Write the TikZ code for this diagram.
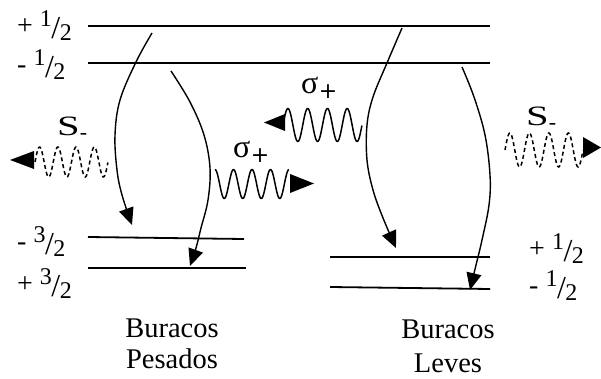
\documentclass[tikz,border=0pt]{standalone}
\usepackage{fontspec}
\setmainfont{Liberation Serif}
\newfontfamily\symfont{DejaVu Sans}
\usetikzlibrary{arrows.meta}
\newcommand{\frc}[2]{\raisebox{8pt}{\fontsize{24}{24}\selectfont #1}\kern-0.5pt\raisebox{-4pt}{\fontsize{32}{32}\selectfont /}\kern-0.5pt\raisebox{-6pt}{\fontsize{24}{24}\selectfont #2}}
\newcommand{\sigp}{{\fontsize{32}{32}\selectfont σ}\kern0.5pt\raisebox{-5pt}{\fontsize{22}{22}\selectfont\symfont +}}
\newcommand{\smin}{\scalebox{1.45}[1]{\fontsize{28}{28}\selectfont S}\raisebox{-4pt}{\fontsize{22}{22}\selectfont -}}
\begin{document}
\begin{tikzpicture}[x=1pt,y=-1pt,
  level/.style={line width=1.8pt},
  curvearrow/.style={line width=1.4pt,-{Triangle[length=17pt,width=15pt]}},
  wv/.style={line width=1.5pt,line join=round},
  dwv/.style={line width=1.5pt,dash pattern=on 4pt off 3pt},
  lab/.style={anchor=base west,inner sep=0pt,font=\fontsize{28}{28}\selectfont},
  sig/.style={anchor=base west,inner sep=0pt,font=\fontsize{26}{26}\selectfont},
  txt/.style={anchor=base,inner sep=0pt,font=\fontsize{28.5}{28.5}\selectfont}]
\useasboundingbox (0,0) rectangle (601,379);
% energy levels
\draw[level] (88,26) coordinate (a1) -- (490,26) coordinate (a2);
\draw[level] (88,63) coordinate (b1) -- (490,63) coordinate (b2);
\draw[level] (88,237) coordinate (c1) -- (244,239) coordinate (c2);
\draw[level] (88,268) coordinate (d1) -- (246,268) coordinate (d2);
\draw[level] (330,257) coordinate (e1) -- (490,257) coordinate (e2);
\draw[level] (330,287) coordinate (f1) -- (490,289) coordinate (f2);
% level labels
\node[lab] (l1) at (17,35) {+ \frc{1}{2}};
\node[lab] (l2) at (17,74) {- \frc{1}{2}};
\node[lab] (l3) at (17,250) {- \frc{3}{2}};
\node[lab] (l4) at (17,292) {+ \frc{3}{2}};
\node[lab] (l5) at (529,257) {+ \frc{1}{2}};
\node[lab] (l6) at (529,294) {- \frc{1}{2}};
% transitions
\draw[curvearrow] plot[smooth,tension=0.6] coordinates {(152,33) (136,62) (120,100) (115,135) (117,170) (122,195) (132,225)};
\draw[curvearrow] plot[smooth,tension=0.6] coordinates {(171,71) (190,102) (204,135) (210,168) (208,200) (201,228) (196,248) (190,266)};
\draw[curvearrow] plot[smooth,tension=0.6] coordinates {(402,28) (387,63) (373,97) (367,125) (367,160) (373,190) (383,218) (396,248)};
\draw[curvearrow] plot[smooth,tension=0.6] coordinates {(462,67) (474,97) (485,135) (490,175) (489,205) (482,240) (476,265) (470,290)};
% photons
% left S-
\node[sig] (s1) at (57,136) {\smin};
\draw[dwv] plot[domain=0:1,samples=120,smooth] ({35+73*\x},{162-15*sin(4*360*\x)});
\fill (10,160) -- (34,151) -- (34,169) -- cycle;
% middle sigma+
\node[sig] (s2) at (233,158) {\sigp};
\draw[wv] plot[domain=0:1,samples=120,smooth] ({215+74*\x},{184-14.5*cos(4*360*\x)});
\fill (314,183.5) -- (290,174) -- (290,193) -- cycle;
% right sigma+
\node[sig] (s3) at (301,94) {\sigp};
\draw[wv] plot[domain=0:1,samples=120,smooth] ({283+79*\x},{125-16.5*sin(4*360*\x)});
\fill (264,122.5) -- (285,114) -- (285,131) -- cycle;
% right S-
\node[sig] (s4) at (526,126) {\smin};
\draw[dwv] plot[domain=0:1,samples=120,smooth] ({505+78*\x},{150-17*sin(4*360*\x)});
\fill (601,147.5) -- (583,137) -- (583,158) -- cycle;
% captions
\node[txt] (t1) at (172,337) {Buracos};
\node[txt] (t2) at (172,368) {Pesados};
\node[txt] (t3) at (448,338) {Buracos};
\node[txt] (t4) at (448,372) {Leves};
\end{tikzpicture}
\end{document}
